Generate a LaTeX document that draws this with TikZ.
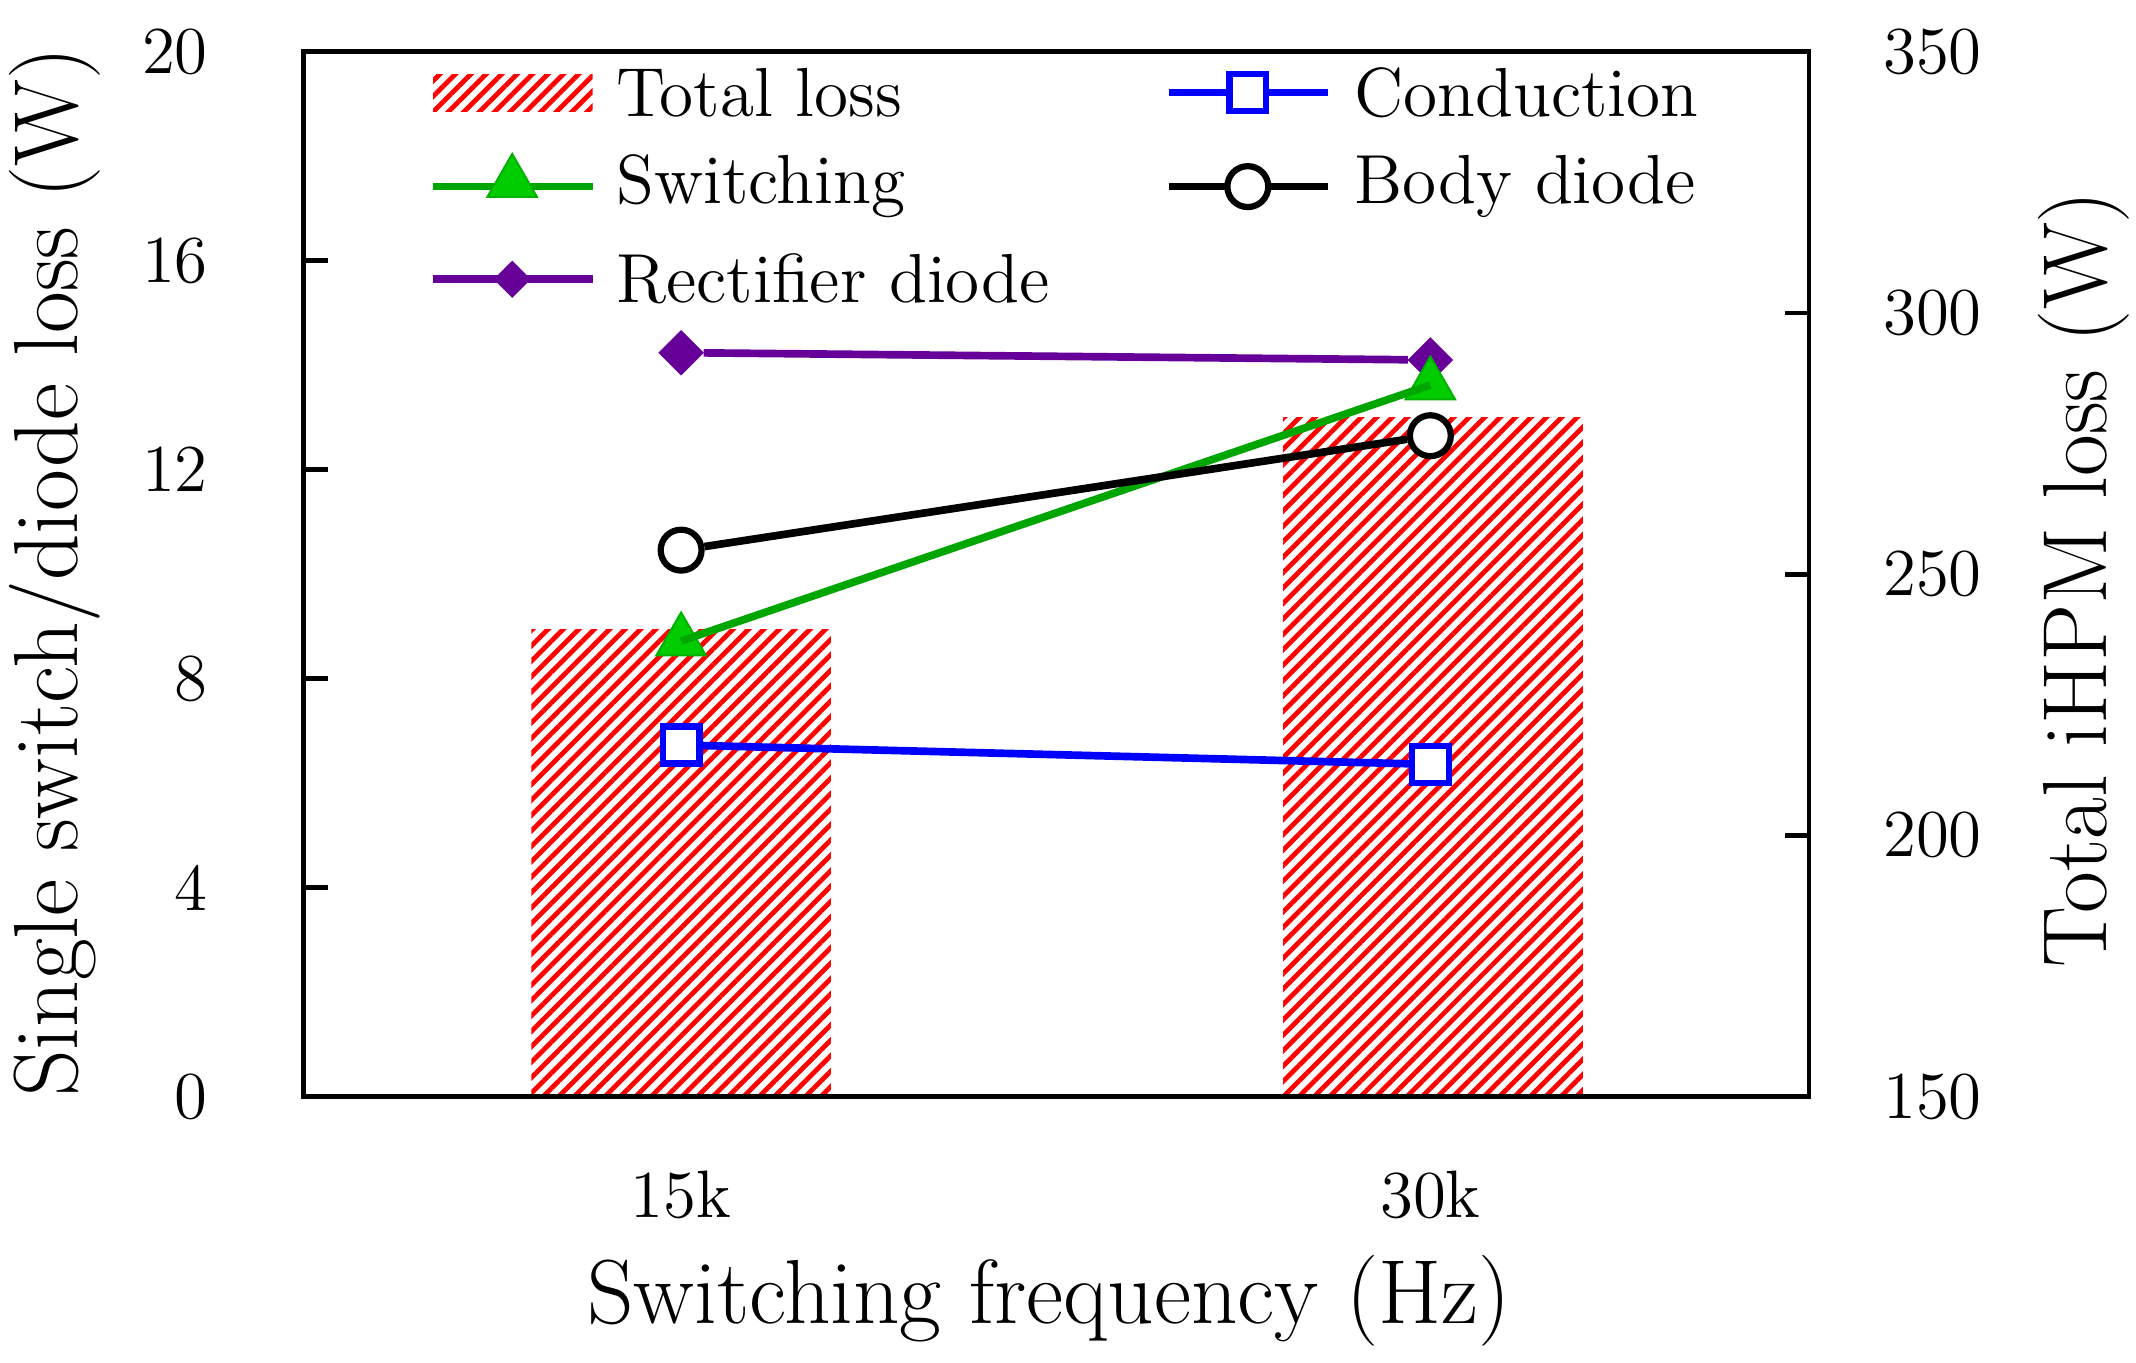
\documentclass[tikz,border=0pt]{standalone}
\usetikzlibrary{patterns.meta,shapes.geometric}
\tikzset{
  curve/.style={line width=1.6pt},
  mksq/.style={draw=blue,fill=white,line width=1.3pt,minimum size=0.27cm,inner sep=0pt,rectangle},
  mktri/.style={draw=green!70!black,fill=green!80!black,regular polygon,regular polygon sides=3,minimum size=0.42cm,inner sep=0pt},
  mkcirc/.style={draw=black,fill=white,line width=1.3pt,circle,minimum size=0.3cm,inner sep=0pt},
  mkdia/.style={draw=violet!80!blue,fill=violet!80!blue,diamond,minimum size=0.32cm,inner sep=0pt},
  hatch/.style={pattern={Lines[angle=45,distance=0.08cm,line width=0.035cm]},pattern color=red},
  ticklab/.style={font=\fontsize{14}{14}\selectfont},
  leglab/.style={font=\fontsize{14.5}{14.5}\selectfont,anchor=west},
  axlab/.style={font=\fontsize{19}{19}\selectfont}
}
\begin{document}
\begin{tikzpicture}[x=0.01cm,y=0.01cm]
\useasboundingbox (0,0) rectangle (1568,1000);

% bars (left axis: 0 at 195, 1 W = 38.35)
\fill[hatch] (390,195) rectangle (610,{195+8.94*38.35});
\fill[hatch] (942,195) rectangle (1162,{195+13.0*38.35});

% frame and ticks
\draw[line width=1pt] (223,195) rectangle (1328,962);
\foreach \v in {0,4,...,20}{
  \draw[line width=1pt] (223,{195+\v*38.35}) -- ++(18,0);
  \node[ticklab,anchor=east] (l\v) at (165,{195+\v*38.35}) {\v};
}
\foreach \v in {150,200,...,350}{
  \draw[line width=1pt] (1328,{195+(\v-150)*3.835}) -- ++(-18,0);
  \node[ticklab,anchor=west] (r\v) at (1370,{195+(\v-150)*3.835}) {\v};
}
\node[ticklab] (x15) at (500,123) {15k};
\node[ticklab] (x30) at (1050,123) {30k};

% data points
\node[mkdia] (rd1) at (500,{195+14.24*38.35}) {};
\node[mkdia] (rd2) at (1050,{195+14.10*38.35}) {};
\node[mktri] (sw1) at (500,{195+8.72*38.35}) {};
\node[mktri] (sw2) at (1050,{195+13.62*38.35}) {};
\node[mkcirc] (bd1) at (500,{195+10.46*38.35}) {};
\node[mkcirc] (bd2) at (1050,{195+12.65*38.35}) {};
\node[mksq] (cd1) at (500,{195+6.73*38.35}) {};
\node[mksq] (cd2) at (1050,{195+6.36*38.35}) {};
\draw[curve,violet!80!blue] (rd1) -- (rd2);
\draw[curve,green!65!black] (sw1.center) -- (sw2.center);
\draw[curve] (bd1) -- (bd2);
\draw[curve,blue] (cd1) -- (cd2);

% legend
\fill[hatch] (318,918) rectangle (435,945);
\node[leglab] (lg1) at (440,932) {Total loss};
\coordinate (a2) at (318,863); \coordinate (b2) at (435,863);
\draw[curve,green!65!black] (a2) -- (b2);
\node[mktri] at (376,866) {};
\node[leglab] (lg2) at (440,863) {Switching};
\coordinate (a3) at (318,795); \coordinate (b3) at (435,795);
\draw[curve,violet!80!blue] (a3) -- (b3);
\node[mkdia,minimum size=0.26cm] at (376,795) {};
\node[leglab] (lg3) at (440,795) {Rectifier diode};
\coordinate (a4) at (858,932); \coordinate (b4) at (975,932);
\draw[curve,blue] (a4) -- (b4);
\node[mksq] at (916,932) {};
\node[leglab] (lg4) at (982,932) {Conduction};
\coordinate (a5) at (858,863); \coordinate (b5) at (975,863);
\draw[curve] (a5) -- (b5);
\node[mkcirc] at (916,863) {};
\node[leglab] (lg5) at (982,863) {Body diode};

% axis labels
\node[axlab,rotate=90] (ylab) at (40,580) {Single switch/diode loss (W)};
\node[axlab,rotate=90] (y2lab) at (1530,575) {Total iHPM loss (W)};
\node[axlab] (xlab) at (770,45) {Switching frequency (Hz)};
\end{tikzpicture}
\end{document}
